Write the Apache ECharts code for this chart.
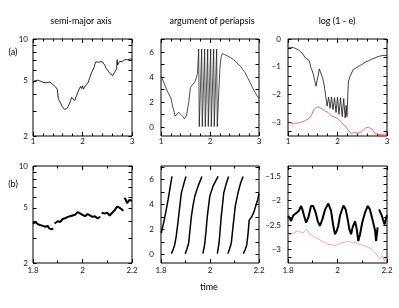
<!DOCTYPE html>
<html><head><meta charset="utf-8">
<script src="https://cdn.jsdelivr.net/npm/echarts@6/dist/echarts.min.js"></script>
<style>html,body{margin:0;padding:0;background:#fff}#c{width:399px;height:308px}</style>
</head><body><div id="c"></div>
<script>
// ---------- data ----------
const titles = ['semi-major axis', 'argument of periapsis', 'log (1 - e)'];
const xTicksTop = [1, 2, 3];
const xTicksBottom = [1.8, 2, 2.2];
const logLabels = [2, 5, 10];
const logTicks = [2, 3, 4, 5, 6, 7, 8, 9, 10];
const angleLabels = [0, 2, 4, 6];
const angleTicks = [0, 1, 2, 3, 4, 5, 6, 7];
const eccLabelsA = [-3, -2, -1, 0];
const eccTicksA = [-3.3333, -3, -2.6667, -2.3333, -2, -1.6667, -1.3333, -1, -0.6667, -0.3333, 0];
const eccLabelsB = [-3, -2.5, -2, -1.5];
const eccTicksB = [-3.1667, -3, -2.8333, -2.6667, -2.5, -2.3333, -2.1667, -2, -1.8333, -1.6667, -1.5, -1.3333];

const semiMajorA = [[1.0,4.8],[1.03,5.0],[1.05,4.9],[1.07,5.15],[1.10,5.05],[1.13,5.1],[1.16,4.95],[1.19,5.0],[1.22,4.85],[1.25,4.75],[1.28,4.85],[1.31,4.8],[1.34,4.9],[1.37,4.8],[1.40,4.7],[1.43,4.6],[1.46,4.5],[1.49,4.35],[1.50,4.25],[1.51,3.75],[1.53,3.6],[1.56,3.45],[1.58,3.3],[1.61,3.25],[1.64,3.1],[1.66,3.15],[1.68,3.1],[1.70,3.2],[1.72,3.3],[1.74,3.45],[1.76,3.6],[1.78,3.8],[1.80,3.7],[1.82,3.9],[1.84,3.6],[1.86,3.75],[1.88,3.9],[1.90,4.1],[1.92,4.2],[1.94,4.4],[1.96,4.55],[1.98,4.4],[2.00,4.6],[2.02,4.35],[2.04,4.5],[2.06,4.4],[2.08,4.7],[2.10,4.6],[2.12,4.9],[2.14,5.2],[2.16,5.4],[2.18,5.7],[2.20,5.6],[2.22,5.8],[2.24,6.3],[2.25,6.6],[2.27,6.85],[2.29,6.7],[2.31,6.9],[2.33,6.8],[2.35,6.9],[2.37,7.0],[2.39,6.9],[2.41,6.95],[2.43,6.7],[2.45,6.5],[2.47,6.2],[2.49,6.0],[2.51,5.95],[2.53,5.8],[2.55,5.65],[2.57,5.55],[2.59,5.6],[2.61,5.45],[2.63,5.6],[2.65,5.75],[2.67,5.9],[2.69,6.1],[2.70,7.1],[2.71,6.5],[2.73,6.7],[2.75,6.9],[2.77,6.8],[2.79,7.0],[2.81,6.85],[2.83,6.9],[2.85,7.1],[2.87,7.05],[2.89,7.2],[2.91,7.1],[2.93,7.25],[2.95,7.2],[2.97,7.15],[3.0,7.2]];

const periapsisA = [[1.0,4.1],[1.06,3.55],[1.13,2.88],[1.2,2.35],[1.245,1.55],[1.29,0.88],[1.33,0.8],[1.36,1.2],[1.40,1.1],[1.44,0.88],[1.48,0.67],[1.52,0.93],[1.565,1.95],[1.6,3.15],[1.64,3.41],[1.69,3.6],[1.72,3.95],[1.745,4.3],[1.769,6.25],[1.781,0.05],[1.830,6.25],[1.842,0.05],[1.891,6.25],[1.903,0.05],[1.953,6.25],[1.965,0.05],[2.014,6.25],[2.026,0.05],[2.075,6.25],[2.087,0.05],[2.136,6.25],[2.148,0.05],[2.20,4.6],[2.225,5.6],[2.25,5.88],[2.30,5.8],[2.35,5.72],[2.42,5.55],[2.48,5.4],[2.55,5.15],[2.62,4.88],[2.67,4.6],[2.72,4.35],[2.77,3.95],[2.82,3.55],[2.87,3.15],[2.925,2.75],[2.96,2.5],[3.0,2.3]];

const logEccA = [[1.0,-0.33],[1.05,-0.3],[1.107,-0.31],[1.16,-0.35],[1.208,-0.39],[1.26,-0.47],[1.309,-0.57],[1.35,-0.68],[1.377,-0.73],[1.424,-0.77],[1.445,-0.9],[1.465,-1.05],[1.49,-1.15],[1.512,-1.28],[1.54,-1.5],[1.566,-1.70],[1.593,-1.76],[1.613,-1.28],[1.633,-1.08],[1.667,-1.1],[1.70,-1.40],[1.734,-1.70],[1.761,-2.05],[1.79,-2.42],[1.82,-2.1],[1.85,-2.5],[1.88,-2.1],[1.91,-2.55],[1.94,-2.12],[1.97,-2.65],[2.0,-2.1],[2.03,-2.72],[2.06,-2.12],[2.095,-2.8],[2.125,-2.15],[2.155,-2.85],[2.175,-2.4],[2.19,-2.8],[2.22,-1.55],[2.253,-1.34],[2.32,-1.1],[2.37,-1.05],[2.42,-0.99],[2.49,-0.92],[2.556,-0.84],[2.62,-0.79],[2.69,-0.73],[2.76,-0.68],[2.825,-0.63],[2.9,-0.6],[2.96,-0.59],[3.0,-0.6]];

const logEccRedA = [[1.0,-2.98],[1.05,-3.02],[1.107,-3.06],[1.16,-3.03],[1.208,-3.03],[1.26,-3.0],[1.309,-2.98],[1.36,-2.93],[1.41,-2.88],[1.47,-2.77],[1.52,-2.55],[1.57,-2.47],[1.62,-2.45],[1.67,-2.5],[1.74,-2.59],[1.81,-2.65],[1.875,-2.77],[1.94,-2.82],[2.01,-2.88],[2.08,-3.0],[2.14,-3.12],[2.21,-3.26],[2.28,-3.42],[2.35,-3.36],[2.42,-3.4],[2.49,-3.34],[2.56,-3.22],[2.62,-3.18],[2.69,-3.24],[2.76,-3.4],[2.82,-3.45],[2.89,-3.44],[2.96,-3.43],[3.0,-3.45]];

const semiMajorB = [[1.80,3.85],[1.81,3.95],[1.82,3.8],[1.83,3.75],[1.84,3.7],[1.85,3.65],[1.86,3.7],[1.865,3.55],[1.87,3.6],[1.875,3.5],[1.882,3.55],[1.884,null],[1.887,3.85],[1.90,4.0],[1.91,3.95],[1.92,4.15],[1.93,4.2],[1.94,4.3],[1.95,4.35],[1.96,4.4],[1.97,4.45],[1.98,4.65],[1.99,4.55],[2.00,4.45],[2.01,4.35],[2.02,4.5],[2.03,4.4],[2.04,4.3],[2.05,4.35],[2.06,4.2],[2.072,4.3],[2.074,null],[2.077,4.6],[2.09,4.55],[2.10,4.6],[2.11,4.4],[2.12,4.6],[2.13,4.8],[2.14,5.1],[2.15,5.0],[2.16,4.85],[2.165,4.75],[2.167,null],[2.169,5.9],[2.175,5.7],[2.18,5.4],[2.185,5.5],[2.19,5.7],[2.195,5.6],[2.2,5.6]];

const periapsisB = [[1.801,1.71],[1.808,2.3],[1.815,2.92],[1.822,3.65],[1.829,4.39],[1.835,5.1],[1.840,5.73],[1.845,6.26],[1.845,null],
 [1.842,0.05],[1.85,0.4],[1.856,0.77],[1.862,1.44],[1.867,2.2],[1.872,3.05],[1.878,4.1],[1.883,4.92],[1.894,5.73],[1.902,6.26],[1.902,null],
 [1.899,0.05],[1.906,0.45],[1.913,0.91],[1.918,1.9],[1.924,3.05],[1.931,3.95],[1.938,4.66],[1.951,5.46],[1.967,6.26],[1.967,null],
 [1.971,0.05],[1.978,0.77],[1.984,1.9],[1.989,3.05],[1.999,4.66],[2.012,5.46],[2.033,6.26],[2.033,null],
 [2.030,0.05],[2.037,0.91],[2.046,3.05],[2.056,4.92],[2.067,5.73],[2.076,6.26],[2.076,null],
 [2.073,0.05],[2.080,0.45],[2.087,0.91],[2.095,2.4],[2.103,3.85],[2.114,4.92],[2.125,5.73],[2.135,6.26],[2.135,null],
 [2.136,0.05],[2.143,0.35],[2.15,0.75],[2.155,1.6],[2.16,2.75],[2.17,3.0],[2.18,3.45],[2.188,3.96],[2.195,4.4],[2.2,4.9]];

const logEccB = [[1.801,-2.31],[1.812,-2.42],[1.822,-2.30],[1.835,-2.25],[1.844,-2.21],[1.853,-2.11],[1.858,-2.18],[1.865,-2.31],[1.873,-2.45],[1.882,-2.35],[1.893,-2.11],[1.902,-2.11],[1.912,-2.25],[1.92,-2.42],[1.929,-2.52],[1.939,-2.38],[1.95,-2.18],[1.963,-2.06],[1.974,-2.21],[1.983,-2.52],[1.99,-2.69],[1.997,-2.62],[2.003,-2.52],[2.01,-2.31],[2.024,-2.10],[2.033,-2.18],[2.041,-2.38],[2.048,-2.59],[2.055,-2.69],[2.061,-2.55],[2.071,-2.42],[2.078,-2.59],[2.084,-2.83],[2.091,-2.69],[2.1,-2.45],[2.111,-2.25],[2.122,-2.11],[2.131,-2.18],[2.141,-2.38],[2.152,-2.62],[2.156,-2.83],[2.162,-2.55],[2.165,null],[2.168,-2.18],[2.179,-2.31],[2.19,-2.49],[2.197,-2.35],[2.2,-2.3]];

const logEccRedB = [[1.801,-2.69],[1.81,-2.7],[1.822,-2.66],[1.83,-2.67],[1.842,-2.62],[1.852,-2.65],[1.862,-2.66],[1.876,-2.59],[1.889,-2.69],[1.90,-2.72],[1.91,-2.76],[1.923,-2.78],[1.936,-2.83],[1.95,-2.86],[1.963,-2.90],[1.975,-2.9],[1.99,-2.93],[2.0,-2.9],[2.017,-2.86],[2.03,-2.85],[2.044,-2.83],[2.058,-2.86],[2.071,-2.86],[2.082,-2.89],[2.091,-2.90],[2.10,-2.91],[2.111,-2.93],[2.121,-2.95],[2.131,-2.97],[2.145,-3.03],[2.158,-3.10],[2.165,-3.08],[2.172,-3.20],[2.181,-3.13],[2.19,-3.24],[2.195,-3.18],[2.2,-3.2]];

// ---------- layout / style ----------
const FONT = 'Lato, "DejaVu Sans", sans-serif';
const fmt = v => String(v).replace('-', '\u2212');
const grids = [
  {left:33, top:39, width:99, height:97},
  {left:161, top:39, width:98, height:97},
  {left:288, top:39, width:99, height:97},
  {left:33, top:166, width:99, height:97},
  {left:161, top:166, width:98, height:97},
  {left:288, top:166, width:99, height:97}
].map(g => Object.assign({show:true, borderColor:'#000', borderWidth:1, backgroundColor:'transparent'}, g));

function xAx(gi, labels, minorSplit, pos, margin) {
  const main = pos === 'bottom';
  return {type:'value', gridIndex:gi, position:pos, min:labels[0], max:labels[labels.length-1],
    interval: labels[1]-labels[0] > 0.5 ? 1 : 0.2,
    axisLine:{show:false, onZero:false}, splitLine:{show:false},
    axisTick:{show:true, inside:true, length:4, lineStyle:{color:'#000', width:1}},
    minorTick:{show:true, splitNumber:minorSplit, length:2.5, lineStyle:{color:'#000', width:1}},
    axisLabel:{show:main, margin:margin, fontSize:8, color:'#111', fontFamily:FONT, formatter:fmt}};
}
function yAx(gi, c, pos) {
  const main = pos === 'left';
  const a = {type:c.type, gridIndex:gi, position:pos, min:c.min, max:c.max,
    axisLine:{show:false, onZero:false}, splitLine:{show:false},
    axisTick:{show:true, inside:true, length:3.5, customValues:c.ticks, lineStyle:{color:'#000', width:1}},
    axisLabel:{show:main, margin:c.margin, fontSize:8, color:'#111', fontFamily:FONT, customValues:c.labels, formatter:fmt}};
  if (c.type === 'log') a.logBase = 10;
  return a;
}
const yCfg = [
  {type:'log', min:2, max:10, ticks:logTicks, labels:logLabels, margin:5},
  {type:'value', min:-0.7, max:7.05, ticks:angleTicks, labels:angleLabels, margin:7},
  {type:'value', min:-3.5, max:0, ticks:eccTicksA, labels:eccLabelsA, margin:7},
  {type:'log', min:2, max:10, ticks:logTicks, labels:logLabels, margin:5},
  {type:'value', min:-0.7, max:7.1, ticks:angleTicks, labels:angleLabels, margin:7},
  {type:'value', min:-3.28, max:-1.29, ticks:eccTicksB, labels:eccLabelsB, margin:7}
];
const xAxes = [], yAxes = [];
for (let i = 0; i < 6; i++) {
  const top = i < 3;
  const lab = top ? xTicksTop : xTicksBottom;
  const ms = top ? 5 : 2;
  xAxes.push(xAx(i, lab, ms, 'bottom', top ? 1 : 3));
  xAxes.push(xAx(i, lab, ms, 'top', 0));
  yAxes.push(yAx(i, yCfg[i], 'left'));
  yAxes.push(yAx(i, yCfg[i], 'right'));
}
function line(gi, data, color, width) {
  return {type:'line', xAxisIndex:2*gi, yAxisIndex:2*gi, data:data, showSymbol:false, symbol:'none',
    connectNulls:false, clip:true, lineStyle:{color:color, width:width}, silent:true, z:3};
}
const series = [
  line(0, semiMajorA, '#111', 0.9),
  line(1, periapsisA, '#222', 0.8),
  line(2, logEccRedA, '#ff3b3b', 0.8),
  line(2, logEccA, '#111', 0.8),
  line(3, semiMajorB, '#000', 2),
  line(4, periapsisB, '#000', 1.5),
  line(5, logEccRedB, '#ff9a9a', 0.9),
  line(5, logEccB, '#000', 2)
];
function txt(s, x, y, size) {
  return {type:'text', x:x, y:y, silent:true,
    style:{text:s, align:'center', verticalAlign:'middle', fontSize:size, fontFamily:FONT, fill:'#000'}};
}
const chart = echarts.init(document.getElementById('c'), null, {renderer:'canvas'});
chart.setOption({
  animation:false,
  backgroundColor:'#fff',
  grid:grids, xAxis:xAxes, yAxis:yAxes, series:series,
  graphic:[
    txt(titles[0], 81, 21, 9),
    txt(titles[1], 212, 21, 9),
    txt(titles[2], 337, 21, 9),
    txt('time', 209, 287, 9),
    txt('(a)', 13, 52, 9),
    txt('(b)', 13, 184, 9)
  ]
});
</script></body></html>
